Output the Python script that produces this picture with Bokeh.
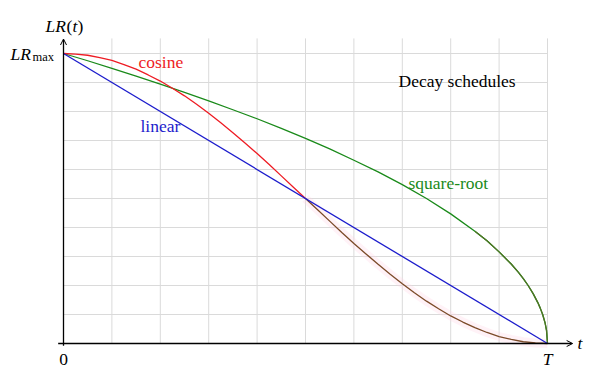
from bokeh.plotting import figure
from bokeh.models import Range1d, Arrow, OpenHead
from bokeh.core.properties import value
from bokeh.embed import file_html
from bokeh.resources import INLINE

# ---- data ----
t_cos = [0.0, 0.025, 0.05, 0.075, 0.10, 0.125, 0.15, 0.175, 0.20, 0.225, 0.25,
         0.275, 0.30, 0.325, 0.35, 0.375, 0.40, 0.425, 0.45, 0.475, 0.50,
         0.525, 0.55, 0.575, 0.60, 0.625, 0.65, 0.675, 0.70, 0.725, 0.75,
         0.775, 0.80, 0.825, 0.85, 0.875, 0.90, 0.925, 0.95, 0.975, 1.0]
lr_cos = [1.0, 0.998, 0.994, 0.986, 0.976, 0.962, 0.946, 0.926, 0.905, 0.880, 0.854,
          0.825, 0.794, 0.761, 0.727, 0.691, 0.655, 0.617, 0.578, 0.539, 0.500,
          0.461, 0.422, 0.383, 0.345, 0.309, 0.273, 0.239, 0.206, 0.175, 0.146,
          0.120, 0.095, 0.074, 0.055, 0.038, 0.024, 0.014, 0.006, 0.002, 0.0]
t_lin = [0.0, 1.0]
lr_lin = [1.0, 0.0]
t_sqrt = [0.0, 0.05, 0.10, 0.15, 0.20, 0.25, 0.30, 0.35, 0.40, 0.45, 0.50,
          0.55, 0.60, 0.65, 0.70, 0.75, 0.80, 0.85, 0.875, 0.90, 0.925, 0.94,
          0.95, 0.96, 0.97, 0.98, 0.985, 0.99, 0.995, 0.998, 1.0]
lr_sqrt = [1.0, 0.975, 0.949, 0.922, 0.894, 0.866, 0.837, 0.806, 0.775, 0.742, 0.707,
           0.671, 0.632, 0.592, 0.548, 0.500, 0.447, 0.387, 0.354, 0.316, 0.274, 0.245,
           0.224, 0.200, 0.173, 0.141, 0.122, 0.100, 0.071, 0.045, 0.0]
grid_x = [0.1, 0.2, 0.3, 0.4, 0.5, 0.6, 0.7, 0.8, 0.9, 1.0]
grid_y = [0.1, 0.2, 0.3, 0.4, 0.5, 0.6, 0.7, 0.8, 0.9, 1.0]
title = "Decay schedules"
series_labels = ["cosine", "linear", "square-root"]

# ---- layout ----
W, H = 594, 373
X0, Y0 = 63.0, 343.0      # origin in canvas px
SX, SY = 484.0, 290.0     # px per unit
x_range = Range1d(-X0 / SX, (W - X0) / SX)
y_range = Range1d(-(H - Y0) / SY, Y0 / SY)

p = figure(width=W, height=H, x_range=x_range, y_range=y_range,
           output_backend="svg", toolbar_location=None,
           x_axis_type=None, y_axis_type=None, min_border=0)
p.grid.visible = False
p.outline_line_color = None
p.background_fill_color = "white"

FONT = value('"Liberation Serif"')
GRID = "#dadada"

# grid
p.segment(x0=grid_x, y0=[0] * len(grid_x), x1=grid_x, y1=[1.052] * len(grid_x),
          line_color=GRID, line_width=1)
p.segment(x0=[0] * len(grid_y), y0=grid_y, x1=[1.0] * len(grid_y), y1=grid_y,
          line_color=GRID, line_width=1)

# curves
half = t_cos.index(0.5)
k = t_sqrt.index(0.85)
p.line(t_cos[half:], lr_cos[half:], line_color="#ffd3e6", line_width=9, line_alpha=0.3)
p.line(t_sqrt, lr_sqrt, line_color="#1a8a1a", line_width=1.3)
p.line(t_sqrt[k:], lr_sqrt[k:], line_color="#4f7424", line_width=1.3)
p.line(t_cos[:half + 1], lr_cos[:half + 1], line_color="#ee1c24", line_width=1.3)
p.line(t_cos[half:], lr_cos[half:], line_color="#7b4a28", line_width=1.3)
p.line(t_lin, lr_lin, line_color="#1c1ccc", line_width=1.3)

# axes with arrows
p.add_layout(Arrow(end=OpenHead(size=6, line_width=1, line_color="black"),
                   x_start=-0.011, y_start=0, x_end=1.052, y_end=0,
                   line_color="black", line_width=1.3))
p.add_layout(Arrow(end=OpenHead(size=6, line_width=1, line_color="black"),
                   x_start=0, y_start=-0.008, x_end=0, y_end=1.05,
                   line_color="black", line_width=1.3))

def px(xp):
    return (xp - X0) / SX

def py(yp):
    return (Y0 - yp) / SY

def txt(x, y, s, size="17.5px", style="normal", color="black", align="left", xoff=0):
    p.text(x=[x], y=[y], text=[s], text_font=FONT, text_font_size=size,
           text_font_style=style, text_color=color, text_align=align,
           text_baseline="alphabetic", x_offset=xoff)

# series labels
txt(px(138), py(61.5), series_labels[0], color="#ee1c24")
txt(px(140), py(125), series_labels[1], color="#1c1ccc")
txt(px(408), py(182), series_labels[2], color="#1a8a1a")
txt(px(398), py(80), title)

# y-axis label LR(t)
txt(px(45), py(25.5), "LR", style="italic")
txt(px(45), py(25.5), "(", xoff=21)
txt(px(45), py(25.5), "t", style="italic", xoff=27)
txt(px(45), py(25.5), ")", xoff=32)

# LR_max
txt(px(10), py(53.5), "LR", style="italic")
txt(px(10), py(56), "max", size="12.5px", xoff=22)

# x-axis labels
txt(0.0, py(359), "0", align="center")
txt(1.0, py(358), "T", style="italic", align="center")
txt(px(577), py(342.5), "t", style="italic")

open("out.html", "w").write(file_html(p, INLINE))
